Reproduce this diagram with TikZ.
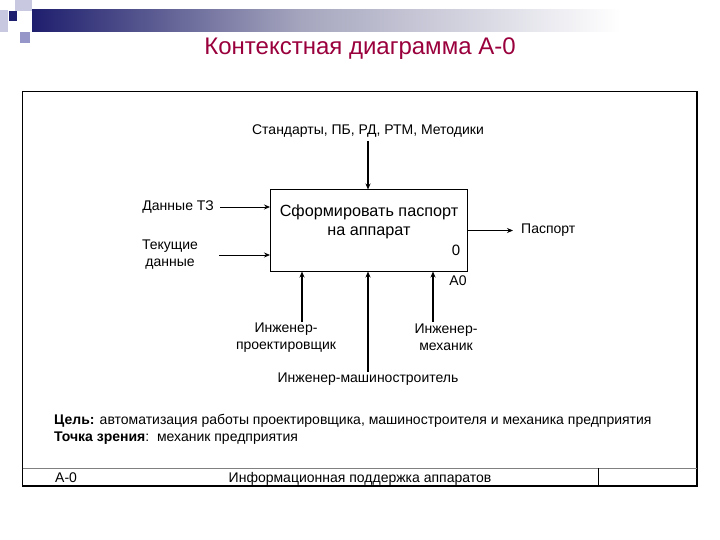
\documentclass[tikz,border=0pt]{standalone}
\usepackage{fontspec}
\setmainfont{Liberation Sans}
\usetikzlibrary{arrows.meta}
\definecolor{navy}{RGB}{30,30,110}
\definecolor{lav}{RGB}{200,200,225}
\definecolor{lavd}{RGB}{150,150,200}
\definecolor{titlec}{RGB}{153,0,60}
\definecolor{midg}{RGB}{165,165,190}
\begin{document}
\begin{tikzpicture}[x=1pt,y=-1pt,
  lbl/.style={inner sep=0pt,font=\fontsize{14}{17.5}\selectfont,align=center},
  frm/.style={line width=1.2pt},
  arr/.style={line width=1.4pt,-{Stealth[length=6pt,width=5pt]}},
  arrthin/.style={line width=0.8pt,-{Stealth[length=6pt,width=5pt]}}]
\useasboundingbox (0,0) rectangle (720,540);
% header decoration
\fill[lav] (0,10) rectangle (8,32);
\fill[lav] (15,0) rectangle (32,11);
\fill[lavd] (20,32) rectangle (30,43);
\fill[navy] (9,11) rectangle (17,21);
\shade[left color=navy,right color=midg] (32,10) rectangle (300,32);
\shade[left color=midg,right color=white] (300,10) rectangle (620,32);
\node[text=titlec,font=\fontsize{24}{28}\selectfont,inner sep=0pt] (title) at (360,49) {Контекстная диаграмма А-0};
% frame
\draw[frm] (22.5,91.5) rectangle (697,486);
\draw[gray,line width=0.8pt] (22.5,468) -- (697,468);
\draw[line width=0.8pt] (598,468) -- (598,486);
% box
\node[draw,line width=0.8pt,minimum width=197pt,minimum height=82pt,inner sep=0pt] (box) at (368.5,230.5) {};
\node[lbl,font=\fontsize{16.2}{19}\selectfont] (boxt) at (369,222) {Сформировать паспорт\\на аппарат};
\node[lbl,font=\fontsize{15}{18}\selectfont] (num) at (456,250) {0};
\node[lbl] (a0) at (458,281) {А0};
% control
\node[lbl] (ctl) at (368,131) {Стандарты, ПБ, РД, РТМ, Методики};
\draw[arr] (368,141) -- (368,189.5);
% inputs
\node[lbl,anchor=east] (in1) at (214,207) {Данные ТЗ};
\draw[arrthin] (220,207) -- (270,207);
\node[lbl] (in2) at (170,254.5) {Текущие\\данные};
\draw[arrthin] (219,255) -- (270,255);
% output
\draw[arrthin] (467,230.5) -- (513,230.5);
\node[lbl,anchor=west] (out) at (521,230.5) {Паспорт};
% mechanisms
\draw[arr] (302,322) -- (302,271.5);
\draw[arr] (368,372) -- (368,271.5);
\draw[arr] (433,322) -- (433,271.5);
\node[lbl] (m1) at (286,337.5) {Инженер-\\проектировщик};
\node[lbl] (m2) at (446,337.5) {Инженер-\\механик};
\node[lbl] (m3) at (368,379.5) {Инженер-машиностроитель};
% bottom text
\node[lbl,anchor=west,align=left,font=\fontsize{14}{17}\selectfont] (goal) at (54,429) {\textbf{Цель:} автоматизация работы проектировщика, машиностроителя и механика предприятия\\\textbf{Точка зрения}:\ \ механик предприятия};
\node[lbl,anchor=base west] (code) at (55,482) {А-0};
\node[lbl,anchor=base] (name) at (360,482) {Информационная поддержка аппаратов};
\end{tikzpicture}
\end{document}
